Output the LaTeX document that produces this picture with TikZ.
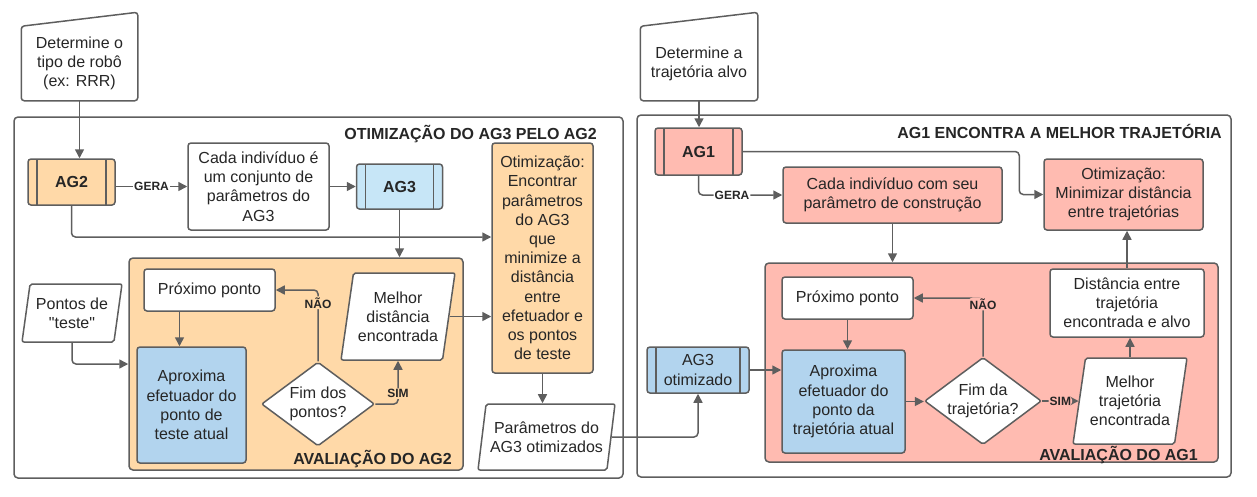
\documentclass[tikz,border=0pt]{standalone}
\usepackage{fontspec}
\setmainfont{Liberation Sans}[Ligatures=TeXOff]
\usepackage{tikz}
\usetikzlibrary{shapes.geometric,arrows.meta,positioning}
\definecolor{linha}{RGB}{94,94,94}
\definecolor{texto}{RGB}{38,38,38}
\definecolor{pessego}{RGB}{255,217,168}
\definecolor{salmao}{RGB}{255,187,177}
\definecolor{azulclaro}{RGB}{199,230,247}
\definecolor{azul}{RGB}{178,212,238}
\tikzstyle{proc}=[rectangle,rounded corners=3pt,draw=linha,line width=1.5pt,
  fill=white,text=texto,align=center,inner sep=2pt,
  font=\fontsize{16}{19.2}\selectfont]
\tikzstyle{subproc}=[proc,path picture={
  \draw[draw=linha,line width=1.5pt]
    ([xshift=9pt]path picture bounding box.north west) -- ([xshift=9pt]path picture bounding box.south west)
    ([xshift=-9pt]path picture bounding box.north east) -- ([xshift=-9pt]path picture bounding box.south east);}]
\tikzstyle{entrada}=[proc,draw=none,fill=none]
\tikzstyle{dados}=[proc,trapezium,trapezium left angle=77,trapezium right angle=103,
  trapezium stretches body,rounded corners=2pt]
\tikzstyle{decisao}=[proc,diamond,aspect=1.34,inner sep=0pt,rounded corners=2pt]
\tikzstyle{grupo}=[rectangle,rounded corners=4pt,draw=linha,line width=1.5pt]
\tikzstyle{titulo}=[anchor=base east,inner sep=0pt,text=texto,
  font=\fontsize{16}{19.2}\selectfont\bfseries]
\tikzstyle{rotulo}=[inner sep=1pt,text=texto,font=\fontsize{12}{14}\selectfont\bfseries]
\tikzstyle{seta}=[-{Triangle[length=9pt,width=9pt]},line width=1.5pt,draw=linha,
  rounded corners=4pt]
\tikzstyle{borda}=[line width=1.5pt,draw=linha,rounded corners=3pt]

\begin{document}
\begin{tikzpicture}[x=1pt,y=-1pt]
  \useasboundingbox (0,0) rectangle (1257,496);

  % Grupos
  \node[grupo,minimum width=609pt,minimum height=361pt] (opt2) at (318.5,297.5) {};
  \node[titulo] at (597,139) {OTIMIZAÇÃO DO AG3 PELO AG2};
  \node[grupo,fill=pessego,minimum width=334pt,minimum height=212pt] (aval2) at (296,364) {};
  \node[titulo] at (452,464) {AVALIAÇÃO DO AG2};
  \node[grupo,minimum width=594pt,minimum height=362pt] (opt1) at (934,296) {};
  \node[titulo] at (1222,138) {AG1 ENCONTRA A MELHOR TRAJETÓRIA};
  \node[grupo,fill=salmao,minimum width=453pt,minimum height=199pt] (aval1) at (991.5,362.5) {};
  \node[titulo] at (1198,460) {AVALIAÇÃO DO AG1};

  % Lado esquerdo
  \node[entrada,minimum width=115pt,minimum height=73pt] (det1) at (79.5,63.5) {Determine o\\tipo de robô\\(ex: RRR)};
  \draw[borda] (det1.south west) -- (det1.north west) -- ([yshift=14pt]det1.north east) -- (det1.south east) -- cycle;
  \node[subproc,fill=pessego,minimum width=87pt,minimum height=46pt,font=\fontsize{16}{19.2}\selectfont\bfseries] (ag2) at (71.5,182) {AG2};
  \node[proc,minimum width=141pt,minimum height=87pt] (cada1) at (258.5,186.5) {Cada indivíduo é\\um conjunto de\\parâmetros do\\AG3};
  \node[subproc,fill=azulclaro,minimum width=86pt,minimum height=45pt,right=26pt of cada1,font=\fontsize{16}{19.2}\selectfont\bfseries] (ag3) {AG3};
  \node[proc,fill=pessego,minimum width=101pt,minimum height=230pt] (otim1) at (542.5,258) {Otimização:\\Encontrar\\parâmetros\\do AG3\\que\\minimize a\\distância\\entre\\efetuador e\\os pontos\\de teste};
  \node[dados,minimum width=100pt,minimum height=58pt] (pontos) at (72,313) {Pontos de\\"teste"};
  \node[proc,minimum width=131pt,minimum height=42pt] (prox1) at (209.5,290) {Próximo ponto};
  \node[proc,fill=azul,minimum width=109pt,minimum height=116pt] (aprox1) at (191.5,405) {Aproxima\\efetuador do\\ponto de\\teste atual};
  \node[decisao,minimum width=113pt,minimum height=84pt] (fim1) at (318,404) {Fim dos\\pontos?};
  \node[dados,minimum width=114pt,minimum height=87pt] (mel1) at (398,316.5) {Melhor\\distância\\encontrada};
  \node[dados,minimum width=137pt,minimum height=66pt] (par) at (546.5,437) {Parâmetros do\\AG3 otimizados};

  % Lado direito
  \node[entrada,minimum width=116pt,minimum height=73pt] (det2) at (699,63.5) {Determine a\\trajetória alvo};
  \draw[borda] (det2.south west) -- (det2.north west) -- ([yshift=14pt]det2.north east) -- (det2.south east) -- cycle;
  \node[subproc,fill=salmao,minimum width=87pt,minimum height=47pt,font=\fontsize{16}{19.2}\selectfont\bfseries] (ag1) at (698.5,151.5) {AG1};
  \node[proc,fill=salmao,minimum width=219pt,minimum height=56pt] (cada2) at (892.5,195) {Cada indivíduo com seu\\parâmetro de construção};
  \node[proc,fill=salmao,minimum width=159pt,minimum height=71pt] (otim2) at (1123.5,194.5) {Otimização:\\Minimizar distância\\entre trajetórias};
  \node[proc,minimum width=131pt,minimum height=42pt] (prox2) at (847.5,298) {Próximo ponto};
  \node[proc,fill=azul,minimum width=123pt,minimum height=103pt] (aprox2) at (843.5,401.5) {Aproxima\\efetuador do\\ponto da\\trajetória atual};
  \node[decisao,minimum width=112pt,minimum height=84pt] (fim2) at (983,401) {Fim da\\trajetória?};
  \node[dados,minimum width=114pt,minimum height=86pt] (mel2) at (1130,401) {Melhor\\trajetória\\encontrada};
  \node[proc,minimum width=154pt,minimum height=68pt] (dist) at (1127,303) {Distância entre\\trajetória\\encontrada e alvo};
  \node[subproc,fill=azul,minimum width=102pt,minimum height=46pt] (ag3opt) at (698,370) {AG3\\otimizado};

  % Setas
  \draw[seta] (det1.south) -- (det1.south |- ag2.north);
  \draw[seta] (ag2.east |- cada1.west) -- node[rotulo,fill=white]{GERA} (cada1.west);
  \draw[seta] (cada1.east) -- (ag3.west);
  \draw[seta] (ag2.south) |- ([yshift=21pt]otim1.west);
  \draw[seta] (ag3.south) -- (ag3.south |- aval2.north);
  \draw[seta] (pontos.south) |- (aval2.west);
  \draw[seta] ([xshift=-30pt]prox1.south) -- ([xshift=-30pt]prox1.south |- aprox1.north);
  \draw[seta] (fim1.north) |- node[rotulo,fill=pessego,pos=0.41]{NÃO} (prox1.east);
  \draw[seta] (fim1.east) -| node[rotulo,fill=pessego,pos=0.62]{SIM} (mel1.south);
  \draw[seta] (mel1.east) -- (mel1.east -| otim1.west);
  \draw[seta] (otim1.south) -- (otim1.south |- par.north);
  \draw[seta] (par.east) -| (ag3opt.south);

  \draw[seta] (det2.south) -- (det2.south |- ag1.north);
  \draw[seta] (ag1.south) |- node[rotulo,fill=white,pos=0.7]{GERA} (cada2.west);
  \draw[seta] (ag1.east) -| ([xshift=-24pt]otim2.west) -- (otim2.west);
  \draw[seta] (cada2.south) -- (cada2.south |- aval1.north);
  \draw[seta] (prox2.south) -- (prox2.south |- aprox2.north);
  \draw[seta] (aprox2.east) -- (aprox2.east -| fim2.west);
  \draw[seta] (fim2.east) -- node[rotulo,fill=salmao]{SIM} (fim2.east -| mel2.west);
  \draw[seta] (fim2.north) |- node[rotulo,fill=salmao,pos=0.45]{NÃO} (prox2.east);
  \draw[seta] (mel2.north) -- (mel2.north |- dist.south);
  \draw[seta] (dist.north) -- (dist.north |- otim2.south);
  \draw[seta] (ag3opt.east) -- (ag3opt.east -| aprox2.west);

\end{tikzpicture}
\end{document}
